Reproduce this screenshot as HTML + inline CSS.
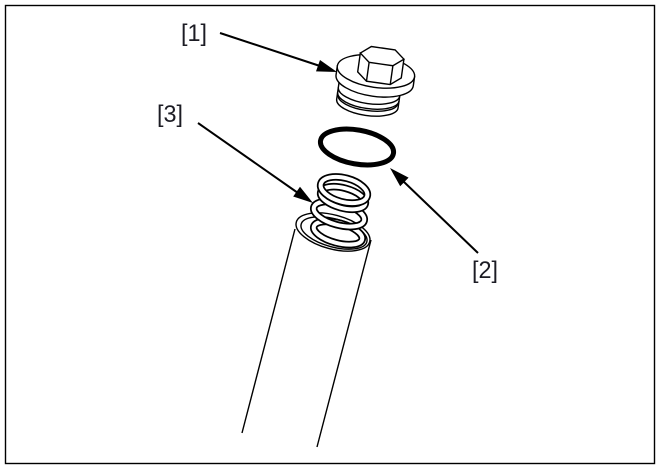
<!DOCTYPE html>
<html><head><meta charset="utf-8"><style>
html,body{margin:0;padding:0;background:#fff;}
svg{display:block;}
text{font-family:"Liberation Sans",sans-serif;font-size:24px;fill:#1c1c24;}
</style></head><body>
<svg width="663" height="470" viewBox="0 0 663 470" xmlns="http://www.w3.org/2000/svg">
<rect x="5.5" y="5.5" width="649" height="458" fill="#fff" stroke="#000" stroke-width="1.4"/>

<!-- labels -->
<text x="181" y="41" textLength="26" lengthAdjust="spacingAndGlyphs">[1]</text>
<text x="157" y="122" textLength="26" lengthAdjust="spacingAndGlyphs">[3]</text>
<text x="472" y="278" textLength="26" lengthAdjust="spacingAndGlyphs">[2]</text>

<!-- tube -->
<g fill="none" stroke="#000" stroke-width="1.4">
<line x1="295" y1="229" x2="242" y2="433"/>
<line x1="371" y1="240" x2="317" y2="447"/>
<ellipse cx="333" cy="232" rx="38" ry="17" transform="rotate(15 333 232)" fill="#fff"/>
<ellipse cx="334" cy="233" rx="34" ry="14" transform="rotate(15 334 233)"/>
</g>

<!-- spring coils -->
<g fill="none">
<g transform="rotate(15 338 233)">
<ellipse cx="338" cy="233" rx="25" ry="10" stroke="#000" stroke-width="7.5"/>
<ellipse cx="338" cy="233" rx="25" ry="10" stroke="#fff" stroke-width="4"/>
</g>
<g transform="rotate(15 339 214)">
<ellipse cx="339" cy="214" rx="26" ry="11" stroke="#000" stroke-width="7.5"/>
<ellipse cx="339" cy="214" rx="26" ry="11" stroke="#fff" stroke-width="4"/>
</g>
<g transform="rotate(15 343 198)">
<ellipse cx="343" cy="198" rx="23" ry="10" stroke="#000" stroke-width="7.5"/>
<ellipse cx="343" cy="198" rx="23" ry="10" stroke="#fff" stroke-width="4"/>
</g>
<g transform="rotate(15 344 190)">
<ellipse cx="344" cy="190" rx="24" ry="12" stroke="#000" stroke-width="7.5"/>
<ellipse cx="344" cy="190" rx="24" ry="12" stroke="#fff" stroke-width="4"/>
</g>
</g>

<!-- o-ring -->
<ellipse cx="357" cy="147" rx="37" ry="17" transform="rotate(10 357 147)" fill="none" stroke="#000" stroke-width="5"/>

<!-- plug -->
<g stroke="#000" stroke-width="1.4" fill="#fff" transform="rotate(8 372 85)">
<!-- threaded body -->
<path d="M339 84 L339 104 A31 12 0 0 0 401 104 L401 84 Z"/>
<path d="M339 92 A31 12 0 0 0 401 92" fill="none"/>
<path d="M339 97 A31 12 0 0 0 401 97" fill="none"/>
<path d="M340 100 A30 11 0 0 0 400 100" fill="none"/>
<!-- flange -->
<path d="M335 71 L335 80 A39 16 0 0 0 413 80 L413 71 Z"/>
<ellipse cx="374" cy="71" rx="39" ry="16"/>
<!-- hex -->
<path d="M356 55 L356 74 L366 82 L390 82 L400 74 L400 55 Z"/>
<path d="M356 55 L366 47 L390 47 L400 55 L390 63 L366 63 Z"/>
<line x1="366" y1="63" x2="366" y2="82"/>
<line x1="390" y1="63" x2="390" y2="82"/>
</g>

<!-- arrows -->
<g stroke="#000" stroke-width="2" fill="none">
<line x1="220" y1="33" x2="320" y2="66"/>
<line x1="198" y1="123" x2="298" y2="193"/>
<line x1="478" y1="253" x2="403" y2="181"/>
</g>
<g fill="#000">
<polygon points="337,72 320,60 316,71.4"/>
<polygon points="313,203 300,186.7 293.2,196.5"/>
<polygon points="390,168 408.6,177.6 400.2,186.2"/>
</g>
</svg>
</body></html>
